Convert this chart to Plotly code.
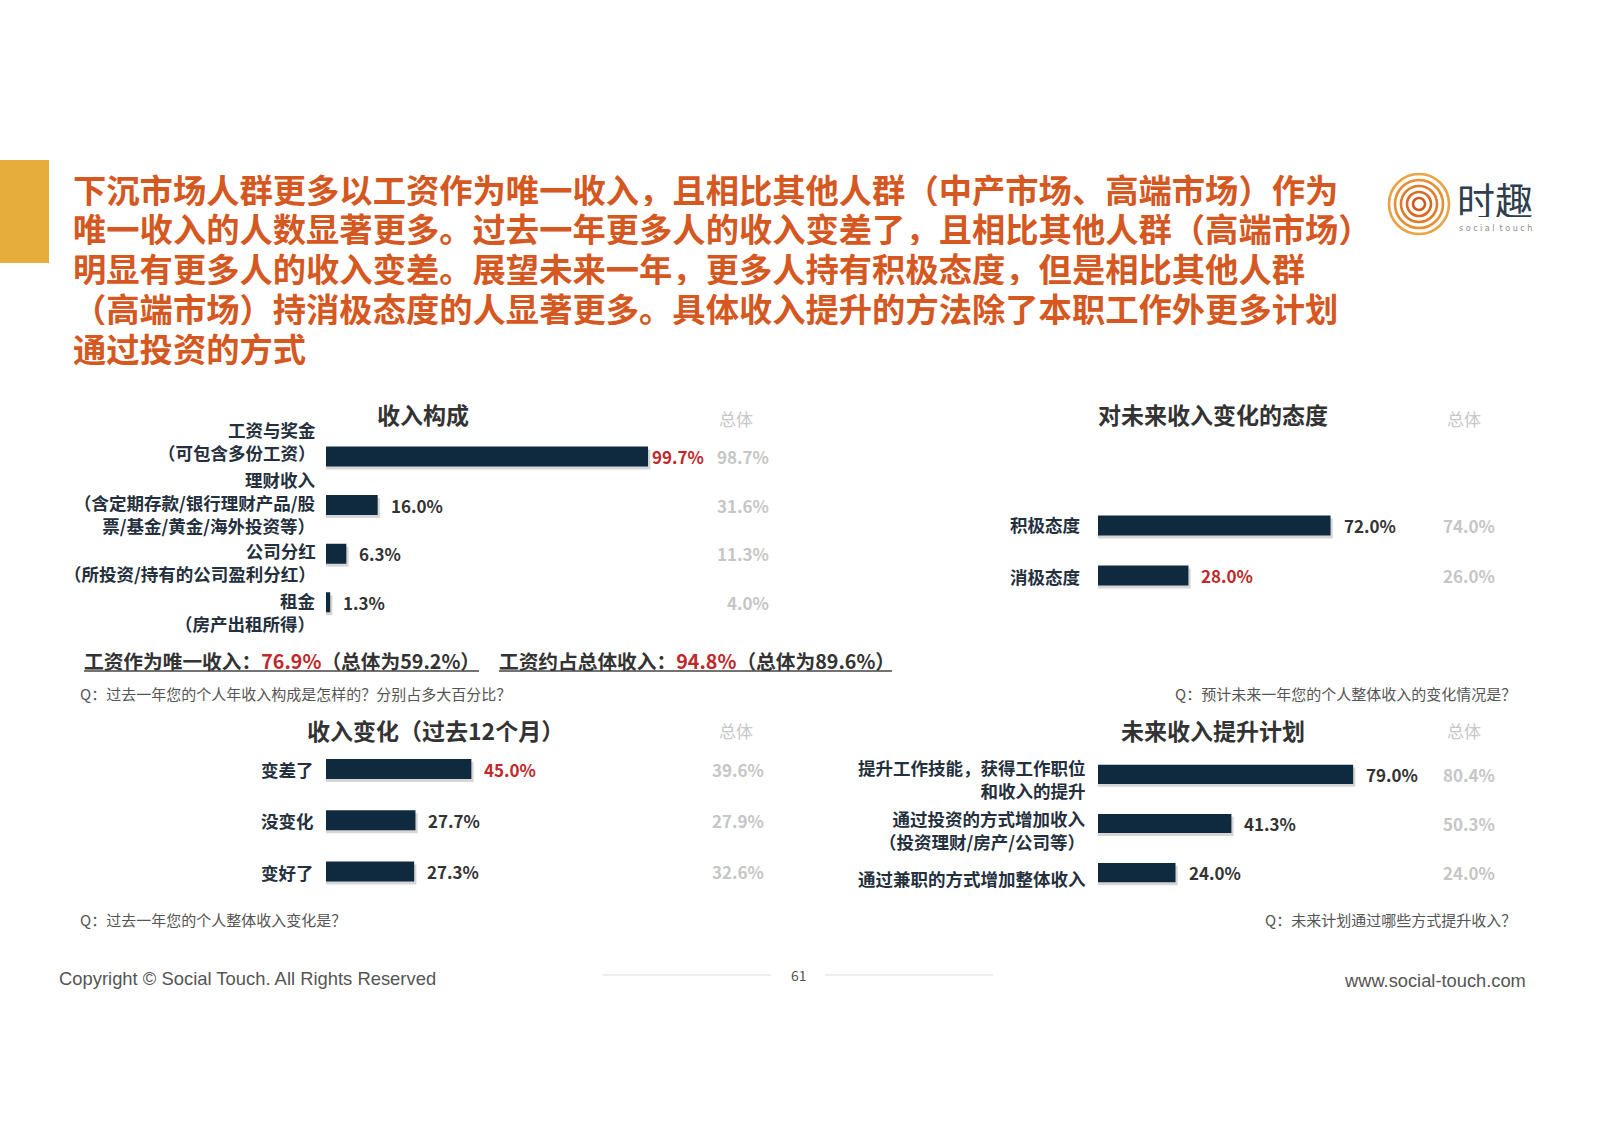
import plotly.graph_objects as go

W, H = 1597, 1136
FONT = "Noto Sans CJK SC, Noto Sans, sans-serif"
BAR = "#0f2a3f"
SHADOW = "rgba(0,0,0,0.16)"
RED = "#c0292b"
DARK = "#333333"
LABEL = "#24303d"
GREY = "#c6c6c6"
QGREY = "#555555"
TITLE_COLOR = "#d4581f"

# ---------------- data ----------------
title_lines = [
    "下沉市场人群更多以工资作为唯一收入，且相比其他人群（中产市场、高端市场）作为",
    "唯一收入的人数显著更多。过去一年更多人的收入变差了，且相比其他人群（高端市场）",
    "明显有更多人的收入变差。展望未来一年，更多人持有积极态度，但是相比其他人群",
    "（高端市场）持消极态度的人显著更多。具体收入提升的方法除了本职工作外更多计划",
    "通过投资的方式",
]

c1_title = "收入构成"
c1_cats = ["工资与奖金<br>（可包含多份工资）",
           "理财收入<br>（含定期存款/银行理财产品/股<br>票/基金/黄金/海外投资等）",
           "公司分红<br>（所投资/持有的公司盈利分红）",
           "租金<br>（房产出租所得）"]
c1_vals = [99.7, 16.0, 6.3, 1.3]
c1_totals = [98.7, 31.6, 11.3, 4.0]
c1_red = [True, False, False, False]
c1_q = "Q：过去一年您的个人年收入构成是怎样的？分别占多大百分比？"

c2_title = "对未来收入变化的态度"
c2_cats = ["积极态度", "消极态度"]
c2_vals = [72.0, 28.0]
c2_totals = [74.0, 26.0]
c2_red = [False, True]
c2_q = "Q：预计未来一年您的个人整体收入的变化情况是？"

c3_title = "收入变化（过去12个月）"
c3_cats = ["变差了", "没变化", "变好了"]
c3_vals = [45.0, 27.7, 27.3]
c3_totals = [39.6, 27.9, 32.6]
c3_red = [True, False, False]
c3_q = "Q：过去一年您的个人整体收入变化是？"

c4_title = "未来收入提升计划"
c4_cats = ["提升工作技能，获得工作职位<br>和收入的提升",
           "通过投资的方式增加收入<br>（投资理财/房产/公司等）",
           "通过兼职的方式增加整体收入"]
c4_vals = [79.0, 41.3, 24.0]
c4_totals = [80.4, 50.3, 24.0]
c4_red = [False, False, False]
c4_q = "Q：未来计划通过哪些方式提升收入？"

sole_income, sole_income_total = 76.9, 59.2
wage_share, wage_share_total = 94.8, 89.6

total_header = "总体"
footer_left = "Copyright © Social Touch. All Rights Reserved"
footer_right = "www.social-touch.com"
page_no = "61"

# ---------------- helpers ----------------
PX_PER_PCT = 3.23
XMAX = 125.0
BAR_PX = 20.0


def px(x):
    return x / W


def py(y):
    return 1 - y / H


fig = go.Figure()
annotations = []
shapes = []


def add_panel(idx, title, cats, vals, totals, red, left, first_center, spacing,
              label_right, total_right, title_cx, header_cx, title_cy, header_dy,
              label_shifts, value_gaps):
    n = len(cats)
    xa = "x" if idx == 1 else f"x{idx}"
    ya = "y" if idx == 1 else f"y{idx}"
    top = first_center - spacing / 2
    bottom = top + n * spacing
    w = BAR_PX / spacing
    # soft drop shadow under each bar
    fig.add_trace(go.Bar(
        x=[v + 0.7 for v in vals], y=cats, orientation="h",
        marker=dict(color=SHADOW, line=dict(width=0)),
        width=w, offset=-w / 2 + 3.0 / spacing,
        xaxis=xa, yaxis=ya, hoverinfo="skip", showlegend=False,
    ))
    fig.add_trace(go.Bar(
        x=vals, y=cats, orientation="h", marker=dict(color=BAR, line=dict(width=0)),
        width=w, offset=-w / 2,
        xaxis=xa, yaxis=ya, hoverinfo="skip", showlegend=False,
    ))
    xkey = "xaxis" if idx == 1 else f"xaxis{idx}"
    ykey = "yaxis" if idx == 1 else f"yaxis{idx}"
    fig.update_layout(**{
        xkey: dict(domain=[px(left), px(left + XMAX * PX_PER_PCT)], range=[0, XMAX],
                   visible=False, anchor=ya, fixedrange=True),
        ykey: dict(domain=[py(bottom), py(top)], autorange="reversed", type="category",
                   visible=False, anchor=xa, fixedrange=True),
    })
    for i, c in enumerate(cats):
        annotations.append(dict(
            x=px(label_right), xref="paper", y=c, yref=ya, yshift=label_shifts[i],
            text=c, showarrow=False, xanchor="right", yanchor="middle", align="right",
            font=dict(family=FONT, size=17.5, color=LABEL, weight="bold")))
        annotations.append(dict(
            x=vals[i], xref=xa, y=c, yref=ya, xshift=value_gaps[i],
            text=f"{vals[i]:.1f}%", showarrow=False, xanchor="left", yanchor="middle",
            font=dict(family=FONT, size=17, color=RED if red[i] else DARK, weight="bold")))
        annotations.append(dict(
            x=px(total_right), xref="paper", y=c, yref=ya,
            text=f"{totals[i]:.1f}%", showarrow=False, xanchor="right", yanchor="middle",
            font=dict(family=FONT, size=17, color=GREY, weight="bold")))
    annotations.append(dict(
        x=px(title_cx), y=py(title_cy), xref="paper", yref="paper", text=title,
        showarrow=False, xanchor="center", yanchor="middle",
        font=dict(family=FONT, size=23, color="#333333", weight="bold")))
    annotations.append(dict(
        x=px(header_cx), y=py(title_cy + header_dy), xref="paper", yref="paper", text=total_header,
        showarrow=False, xanchor="center", yanchor="middle",
        font=dict(family=FONT, size=17, color=GREY)))


add_panel(1, c1_title, c1_cats, c1_vals, c1_totals, c1_red,
          left=326, first_center=456.5, spacing=48.6, label_right=318, total_right=771,
          title_cx=423, header_cx=736, title_cy=414.5, header_dy=4,
          label_shifts=[15, 3, -8, -10], value_gaps=[2, 11, 11, 11])
add_panel(2, c2_title, c2_cats, c2_vals, c2_totals, c2_red,
          left=1098, first_center=525.5, spacing=50, label_right=1082, total_right=1497,
          title_cx=1213, header_cx=1464, title_cy=414.5, header_dy=4,
          label_shifts=[1, -1], value_gaps=[11, 11])
add_panel(3, c3_title, c3_cats, c3_vals, c3_totals, c3_red,
          left=326, first_center=769, spacing=51.3, label_right=316, total_right=766,
          title_cx=435, header_cx=736, title_cy=730, header_dy=0,
          label_shifts=[0, 0, -1], value_gaps=[11, 11, 11])
add_panel(4, c4_title, c4_cats, c4_vals, c4_totals, c4_red,
          left=1098, first_center=769, spacing=51.3, label_right=1088, total_right=1497,
          title_cx=1213, header_cx=1464, title_cy=730, header_dy=0,
          label_shifts=[-5, -6.5, -6], value_gaps=[11, 11, 11])

# question notes
for q, x, y, anchor in [(c1_q, 78, 693, "left"), (c2_q, 1518, 693, "right"),
                        (c3_q, 78, 919, "left"), (c4_q, 1518, 919, "right")]:
    annotations.append(dict(x=px(x), y=py(y), xref="paper", yref="paper", text=q,
                            showarrow=False, xanchor=anchor, yanchor="middle",
                            font=dict(family=FONT, size=15, color=QGREY)))

# summary underlined statements
summ = [
    (f"工资作为唯一收入：<span style='color:{RED}'>{sole_income}%</span>（总体为{sole_income_total}%）", 82, 479),
    (f"工资约占总体收入：<span style='color:{RED}'>{wage_share}%</span>（总体为{wage_share_total}%）", 497, 892),
]
for text, x0, x1 in summ:
    annotations.append(dict(x=px(x0), y=py(660), xref="paper", yref="paper", text=text,
                            showarrow=False, xanchor="left", yanchor="middle",
                            font=dict(family=FONT, size=19.7, color=DARK, weight="bold")))
    shapes.append(dict(type="line", xref="paper", yref="paper", x0=px(x0 + 2), x1=px(x1),
                       y0=py(671), y1=py(671), line=dict(color="#444444", width=1.3)))

# headline
for i, line in enumerate(title_lines):
    annotations.append(dict(x=px(72), y=py(188 + i * 39.9), xref="paper", yref="paper",
                            text=line, showarrow=False, xanchor="left", yanchor="middle",
                            height=35, valign="middle", borderpad=0,
                            font=dict(family=FONT, size=33.3, color=TITLE_COLOR, weight="bold")))

# left golden block
shapes.append(dict(type="rect", xref="paper", yref="paper", x0=0, x1=px(49),
                   y0=py(263), y1=py(160), fillcolor="#e6ac3c", line=dict(width=0), layer="below"))

# logo rings
ring_cols = ["#e9a244", "#e58f36", "#df7c2c", "#d86a24", "#d05a1e"]
cx, cy = 1419, 204
for k, r in enumerate([30, 24, 18, 12, 6]):
    shapes.append(dict(type="circle", xref="paper", yref="paper",
                       x0=px(cx - r), x1=px(cx + r), y0=py(cy + r), y1=py(cy - r),
                       line=dict(color=ring_cols[k], width=2.6)))
annotations.append(dict(x=px(1495), y=py(198), xref="paper", yref="paper", text="时趣",
                        showarrow=False, xanchor="center", yanchor="middle", height=38, borderpad=0,
                        font=dict(family=FONT, size=38, color="#2e3e4e")))
annotations.append(dict(x=px(1495), y=py(229), xref="paper", yref="paper",
                        text="s o c i a l  t o u c h", showarrow=False, xanchor="center",
                        yanchor="middle", font=dict(family="DejaVu Sans", size=8, color="#8c8c8c")))

# footer
annotations.append(dict(x=px(57), y=py(978), xref="paper", yref="paper", text=footer_left,
                        showarrow=False, xanchor="left", yanchor="middle",
                        font=dict(family="Liberation Sans, Arial, sans-serif", size=18.4, color="#555555")))
annotations.append(dict(x=px(1528), y=py(980), xref="paper", yref="paper", text=footer_right,
                        showarrow=False, xanchor="right", yanchor="middle",
                        font=dict(family="Liberation Sans, Arial, sans-serif", size=18.3, color="#555555")))
annotations.append(dict(x=px(798.5), y=py(975), xref="paper", yref="paper", text=page_no,
                        showarrow=False, xanchor="center", yanchor="middle",
                        font=dict(family=FONT, size=14, color="#555555")))
for x0, x1 in [(603, 771), (825, 993)]:
    shapes.append(dict(type="line", xref="paper", yref="paper", x0=px(x0), x1=px(x1),
                       y0=py(975), y1=py(975), line=dict(color="#dddddd", width=1)))

fig.update_layout(
    width=W, height=H, margin=dict(l=0, r=0, t=0, b=0),
    paper_bgcolor="white", plot_bgcolor="rgba(0,0,0,0)",
    barmode="overlay", annotations=annotations, shapes=shapes, showlegend=False,
)

fig.write_html("out.html", config={"displayModeBar": False})
